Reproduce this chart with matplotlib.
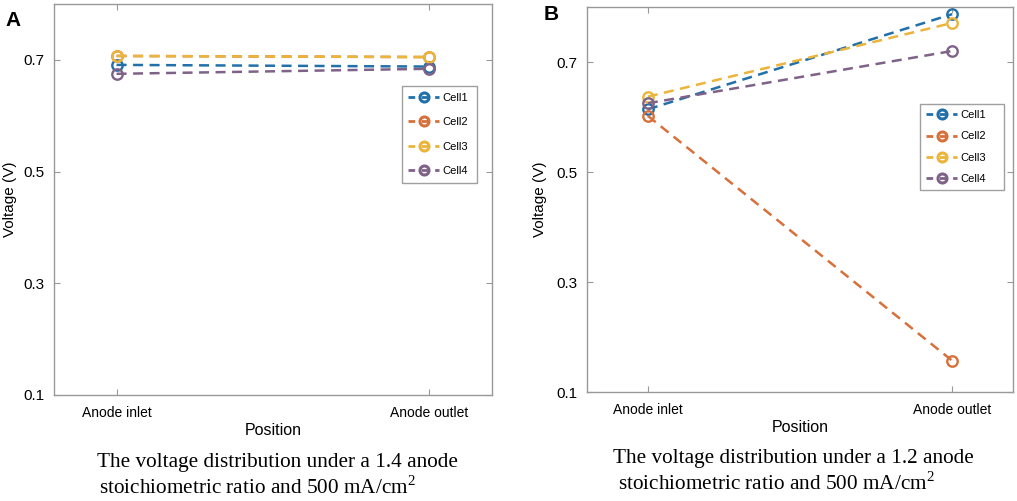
import matplotlib
matplotlib.use("Agg")
import matplotlib.pyplot as plt
from matplotlib.lines import Line2D

plt.rcParams['font.family'] = ['Liberation Sans', 'DejaVu Sans']

############### Data ###############
positions = [1, 2]
position_labels = ['Anode inlet', 'Anode outlet']
cell_names = ['Cell1', 'Cell2', 'Cell3', 'Cell4']

# panel A: 1.4 anode stoichiometric ratio (Cell2 sits under Cell3)
a_cell1 = [0.691, 0.688]
a_cell2 = [0.707, 0.705]
a_cell3 = [0.707, 0.705]
a_cell4 = [0.675, 0.684]

# panel B: 1.2 anode stoichiometric ratio
b_cell1 = [0.614, 0.787]
b_cell2 = [0.602, 0.157]
b_cell3 = [0.637, 0.771]
b_cell4 = [0.625, 0.720]

yticks = [0.1, 0.3, 0.5, 0.7]
captions = ['The voltage distribution under a 1.4 anode',
            'The voltage distribution under a 1.2 anode']
caption2 = 'stoichiometric ratio and 500 mA/cm$^{\\mathregular{2}}$'

colors = ['#2170aa', '#d7703a', '#ebb43a', '#7f6287']

W, H = 1017, 501
fig = plt.figure(figsize=(W / 100, H / 100), dpi=100)


def px_axes(x0, y0, x1, y1):
    return fig.add_axes([x0 / W, 1 - y1 / H, (x1 - x0) / W, (y1 - y0) / H])


def draw_panel(ax, ax_px, series, legend_box, spacing):
    for vals, c, name in zip(series, colors, cell_names):
        ax.plot(positions, vals, linestyle=(0, (4, 2.6)), color=c, lw=1.8,
                marker='o', ms=7.5, mfc='none', mec=c, mew=1.7, label=name)
    ax.set_xlim(0.8, 2.2)
    ax.set_ylim(0.1, 0.8)
    ax.set_xticks(positions)
    ax.set_xticklabels(position_labels, fontsize=10)
    ax.set_yticks(yticks)
    ax.set_yticklabels(['%.1f' % v for v in yticks], fontsize=11)
    ax.tick_params(direction='in', top=True, right=True, length=4,
                   color='#999999', pad=7)
    ax.tick_params(axis='x', pad=8)
    for s in ax.spines.values():
        s.set_color('#999999')
        s.set_linewidth(1.0)
    ax.set_xlabel('Position', fontsize=11.5, labelpad=2)
    ax.set_ylabel('Voltage (V)', fontsize=11)
    handles = [Line2D([0], [0], linestyle=(0, (2.4, 2.4)), color=c, lw=2,
                      marker='o', ms=6.5, mfc='none', mec=c, mew=2.2)
               for c in colors]
    x0, y0, x1, y1 = legend_box
    bb = [(x0 - ax_px[0]) / (ax_px[2] - ax_px[0]),
          1 - (y1 - ax_px[1]) / (ax_px[3] - ax_px[1]),
          (x1 - x0) / (ax_px[2] - ax_px[0]),
          (y1 - y0) / (ax_px[3] - ax_px[1])]
    leg = ax.legend(handles, cell_names, loc='center', bbox_to_anchor=bb,
                    mode='expand', fontsize=8, frameon=True, fancybox=False,
                    handlelength=2.8, handletextpad=0.3, borderpad=0.6,
                    labelspacing=spacing)
    leg.get_frame().set_edgecolor('#888888')
    leg.get_frame().set_linewidth(1.0)


############### Panel A ###############
pxA = (54, 4, 492, 395)
axA = px_axes(*pxA)
draw_panel(axA, pxA, [a_cell1, a_cell2, a_cell3, a_cell4], (396, 86, 483, 183), 1.3)
axA.yaxis.set_label_coords(-0.085, 0.5)
fig.text(5 / W, 1 - 20 / H, 'A', fontsize=15, fontweight='bold', va='center')
fig.text(97 / W, 1 - 463 / H, captions[0], fontsize=15.3,
         family='Liberation Serif', va='center')
fig.text(99 / W, 1 - 488 / H, caption2, fontsize=15.3,
         family='Liberation Serif', va='center')

############### Panel B ###############
pxB = (587, 7, 1013, 392)
axB = px_axes(*pxB)
draw_panel(axB, pxB, [b_cell1, b_cell2, b_cell3, b_cell4], (914, 106, 1010, 188), 1.0)
axB.yaxis.set_label_coords(-0.094, 0.5)
fig.text(544 / W, 1 - 15 / H, 'B', fontsize=15, fontweight='bold', va='center')
fig.text(613 / W, 1 - 458 / H, captions[1], fontsize=15.3,
         family='Liberation Serif', va='center')
fig.text(618 / W, 1 - 483 / H, caption2, fontsize=15.3,
         family='Liberation Serif', va='center')

fig.savefig('out.png', dpi=100)
